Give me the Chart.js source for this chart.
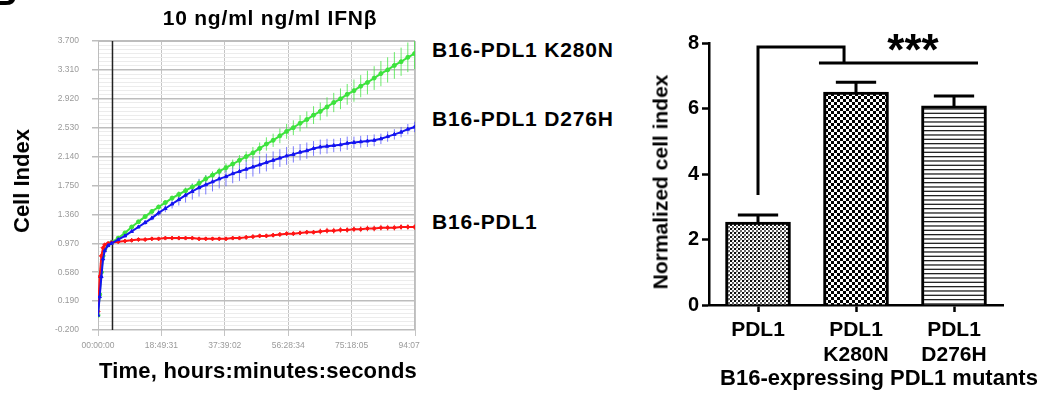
<!DOCTYPE html>
<html>
<head>
<meta charset="utf-8">
<script src="https://cdn.jsdelivr.net/npm/chart.js@4.4.0/dist/chart.umd.min.js"></script>
<style>
html, body { margin: 0; padding: 0; background: #fff; }
body { width: 1052px; height: 394px; position: relative; overflow: hidden;
       font-family: "Liberation Sans", Arial, sans-serif; }
canvas { position: absolute; top: 0; }
.t { position: absolute; font-weight: bold; color: #000; white-space: nowrap; line-height: 1; }
.c { transform: translateX(-50%); }
.r { transform: translate(-50%, -50%) rotate(-90deg); }
</style>
</head>
<body>
<canvas id="curve-chart" width="420" height="394" style="left:0"></canvas>
<canvas id="bar-chart" width="422" height="394" style="left:630px"></canvas>

<div class="t" style="left:-9px;top:-25px;font-size:36px">B</div>
<div class="t c" style="left:270px;top:7px;font-size:21px;letter-spacing:.8px">10 ng/ml ng/ml IFNβ</div>
<div class="t r" style="left:22px;top:181px;font-size:22px">Cell Index</div>
<div class="t c" style="left:258px;top:360px;font-size:22px;letter-spacing:.2px">Time, hours:minutes:seconds</div>
<div class="t" style="left:432px;top:39px;font-size:21px;letter-spacing:.8px">B16-PDL1 K280N</div>
<div class="t" style="left:432px;top:108px;font-size:21px;letter-spacing:.8px">B16-PDL1 D276H</div>
<div class="t" style="left:432px;top:211px;font-size:21px;letter-spacing:.8px">B16-PDL1</div>

<div class="t r" style="left:660px;top:182px;font-size:21px">Normalized cell index</div>
<div class="t c" style="left:879px;top:367px;font-size:22px">B16-expressing PDL1 mutants</div>
<div class="t c" style="left:913px;top:28px;font-size:44px">***</div>

<script>
// left panel: cell index over time (hours), mean and error for each line
var hours = [0, 0.5, 1, 1.5, 2, 3, 4, 6, 8, 10, 12, 14, 16, 18, 20, 22, 24, 26, 28, 30, 32, 34, 36, 38, 40,
             42, 44, 46, 48, 50, 52, 54, 56, 58, 60, 62, 64, 66, 68, 70, 72, 74, 76, 78, 80, 82, 84, 86, 88, 90, 92, 94];

var k280n = [0.00, 0.28, 0.58, 0.80, 0.89, 0.95, 0.98, 1.04, 1.11, 1.19, 1.26, 1.33, 1.40, 1.46, 1.52, 1.58, 1.63,
             1.68, 1.73, 1.78, 1.84, 1.89, 1.94, 1.99, 2.04, 2.09, 2.14, 2.19, 2.25, 2.31, 2.36, 2.42, 2.48, 2.53,
             2.59, 2.64, 2.70, 2.75, 2.81, 2.87, 2.92, 2.98, 3.03, 3.09, 3.14, 3.20, 3.26, 3.31, 3.37, 3.42, 3.48, 3.53];
var k280nErr = [0.00, 0.02, 0.03, 0.03, 0.02, 0.02, 0.02, 0.02, 0.02, 0.02, 0.02, 0.02, 0.03, 0.03, 0.03, 0.03, 0.04,
                0.04, 0.04, 0.05, 0.05, 0.05, 0.05, 0.06, 0.06, 0.07, 0.07, 0.08, 0.08, 0.09, 0.09, 0.10, 0.10, 0.10,
                0.11, 0.11, 0.12, 0.12, 0.13, 0.13, 0.14, 0.14, 0.15, 0.15, 0.16, 0.16, 0.17, 0.17, 0.18, 0.19, 0.20, 0.21];

var d276h = [0.00, 0.25, 0.52, 0.76, 0.87, 0.94, 0.97, 1.02, 1.07, 1.13, 1.19, 1.25, 1.31, 1.38, 1.44, 1.50, 1.56,
             1.62, 1.67, 1.72, 1.76, 1.80, 1.84, 1.87, 1.91, 1.94, 1.97, 2.00, 2.03, 2.06, 2.09, 2.12, 2.15, 2.17,
             2.20, 2.22, 2.25, 2.27, 2.28, 2.29, 2.30, 2.32, 2.33, 2.34, 2.35, 2.36, 2.38, 2.41, 2.44, 2.47, 2.51, 2.54];
var d276hErr = [0.00, 0.02, 0.02, 0.02, 0.02, 0.01, 0.01, 0.01, 0.02, 0.02, 0.02, 0.03, 0.03, 0.04, 0.05, 0.06, 0.08,
                0.10, 0.11, 0.12, 0.13, 0.13, 0.13, 0.13, 0.13, 0.13, 0.13, 0.13, 0.12, 0.12, 0.12, 0.12, 0.12, 0.11,
                0.11, 0.11, 0.10, 0.10, 0.10, 0.09, 0.09, 0.09, 0.08, 0.08, 0.08, 0.08, 0.07, 0.07, 0.07, 0.07, 0.07, 0.07];

var pdl1 = [0.05, 0.52, 0.80, 0.91, 0.95, 0.97, 0.98, 0.99, 1.00, 1.01, 1.02, 1.02, 1.03, 1.03, 1.04, 1.04, 1.04,
            1.04, 1.04, 1.03, 1.03, 1.03, 1.03, 1.03, 1.04, 1.04, 1.05, 1.06, 1.07, 1.07, 1.08, 1.09, 1.10, 1.10,
            1.11, 1.12, 1.12, 1.13, 1.14, 1.14, 1.15, 1.15, 1.16, 1.16, 1.17, 1.17, 1.18, 1.18, 1.18, 1.19, 1.19, 1.19];
var pdl1Err = [0.02, 0.03, 0.02, 0.01, 0.01, 0.01, 0.01, 0.01, 0.01, 0.01, 0.01, 0.01, 0.01, 0.01, 0.01, 0.02, 0.02,
               0.02, 0.02, 0.02, 0.02, 0.02, 0.02, 0.02, 0.02, 0.02, 0.03, 0.03, 0.03, 0.03, 0.03, 0.03, 0.03, 0.03,
               0.03, 0.03, 0.03, 0.04, 0.04, 0.04, 0.04, 0.04, 0.04, 0.04, 0.04, 0.04, 0.04, 0.04, 0.04, 0.04, 0.04, 0.04];

var xTickValues = [0, 18.8253, 37.6506, 56.4761, 75.3014, 94.1267];
var xTickLabels = ['00:00:00', '18:49:31', '37:39:02', '56:28:34', '75:18:05', '94:07:36'];
var yTickValues = [-0.2, 0.19, 0.58, 0.97, 1.36, 1.75, 2.14, 2.53, 2.92, 3.31, 3.7];
var yTickLabels = ['-0.200', '0.190', '0.580', '0.970', '1.360', '1.750', '2.140', '2.530', '2.920', '3.310', '3.700'];
var ifnAddedAt = 4.3;

// right panel: normalized cell index per line
var barLabels = ['PDL1', ['PDL1', 'K280N'], ['PDL1', 'D276H']];
var barValues = [2.53, 6.50, 6.08];
var barErrors = [0.22, 0.30, 0.30];

var FONT = '"Liberation Sans", Arial, sans-serif';

function toPoints(vals) {
    return vals.map(function (v, i) { return { x: hours[i], y: v }; });
}

function fixSize(w, h) {
    return function (scale) {
        if (w !== null) scale.width = w;
        if (h !== null) scale.height = h;
        scale.paddingLeft = scale.paddingRight = scale.paddingTop = scale.paddingBottom = 0;
    };
}

var curveExtras = {
    id: 'curveExtras',
    beforeDatasetsDraw: function (chart) {
        var ctx = chart.ctx, a = chart.chartArea, x = chart.scales.x, y = chart.scales.y;
        ctx.save();
        ctx.strokeStyle = '#bdbdbd';
        ctx.lineWidth = 1;
        ctx.strokeRect(a.left + 0.5, a.top + 0.5, a.right - a.left - 1, a.bottom - a.top - 1);

        var lx = x.getPixelForValue(ifnAddedAt);
        ctx.strokeStyle = '#222';
        ctx.lineWidth = 1.5;
        ctx.beginPath();
        ctx.moveTo(lx, a.top);
        ctx.lineTo(lx, a.bottom);
        ctx.stroke();

        ctx.beginPath();
        ctx.rect(a.left, a.top, a.right - a.left, a.bottom - a.top);
        ctx.clip();
        chart.data.datasets.forEach(function (ds) {
            ctx.strokeStyle = ds.errColor;
            ctx.lineWidth = 1;
            ds.data.forEach(function (p, i) {
                var px = x.getPixelForValue(p.x);
                ctx.beginPath();
                ctx.moveTo(px, y.getPixelForValue(p.y - ds.errs[i]));
                ctx.lineTo(px, y.getPixelForValue(p.y + ds.errs[i]));
                ctx.stroke();
            });
        });
        ctx.restore();
    }
};

var configCurve = {
    type: 'line',
    data: {
        datasets: [{
            label: 'B16-PDL1 D276H',
            data: toPoints(d276h),
            errs: d276hErr,
            errColor: 'rgba(80,80,255,0.75)',
            borderColor: '#1414f0',
            backgroundColor: '#1414f0',
            pointStyle: 'triangle',
            order: 0
        }, {
            label: 'B16-PDL1',
            data: toPoints(pdl1),
            errs: pdl1Err,
            errColor: 'rgba(255,80,80,0.8)',
            borderColor: '#ff1414',
            backgroundColor: '#ff1414',
            pointStyle: 'rectRot',
            order: 1
        }, {
            label: 'B16-PDL1 K280N',
            data: toPoints(k280n),
            errs: k280nErr,
            errColor: 'rgba(70,230,70,0.8)',
            borderColor: '#3de23d',
            backgroundColor: '#3de23d',
            pointStyle: 'circle',
            order: 2
        }]
    },
    options: {
        responsive: false,
        animation: false,
        devicePixelRatio: 1,
        layout: { padding: { top: 41, right: 5, left: 0, bottom: 0 } },
        elements: {
            line: { borderWidth: 2, tension: 0 },
            point: { radius: 2, borderWidth: 1 }
        },
        plugins: { legend: { display: false }, title: { display: false }, tooltip: { enabled: false } },
        scales: {
            x: {
                type: 'linear',
                min: 0,
                max: 94.1267,
                afterBuildTicks: function (scale) {
                    scale.ticks = xTickValues.map(function (v) { return { value: v }; });
                },
                afterFit: fixSize(null, 64),
                ticks: {
                    autoSkip: false,
                    maxRotation: 0,
                    padding: 5,
                    color: '#9a9a9a',
                    font: { family: FONT, size: 8.5 },
                    callback: function (v, i) { return xTickLabels[i]; }
                },
                grid: { color: '#c4c4c4', lineWidth: 1, dash: [2, 2], borderDash: [2, 2], tickLength: 6, tickColor: '#c4c4c4' },
                border: { display: false }
            },
            y: {
                type: 'linear',
                min: -0.2,
                max: 3.7,
                afterBuildTicks: function (scale) {
                    var ticks = [];
                    for (var i = 0; i < yTickValues.length - 1; i++) {
                        var step = (yTickValues[i + 1] - yTickValues[i]) / 7;
                        for (var k = 0; k < 7; k++) {
                            ticks.push({ value: yTickValues[i] + k * step, isMajor: k === 0, idx: i });
                        }
                    }
                    ticks.push({ value: yTickValues[yTickValues.length - 1], isMajor: true, idx: yTickValues.length - 1 });
                    scale.ticks = ticks;
                },
                afterFit: fixSize(98, null),
                ticks: {
                    autoSkip: false,
                    padding: 13,
                    color: '#9a9a9a',
                    font: { family: FONT, size: 8.5 },
                    callback: function (v, i, ticks) { return ticks[i].isMajor ? yTickLabels[ticks[i].idx] : ''; }
                },
                grid: {
                    tickLength: 6,
                    color: function (c) { return c.tick && c.tick.isMajor ? '#bdbdbd' : '#ececec'; },
                    lineWidth: function (c) { return c.tick && c.tick.isMajor ? 1.5 : 1; },
                    tickColor: function (c) { return c.tick && c.tick.isMajor ? '#bdbdbd' : 'rgba(0,0,0,0)'; }
                },
                border: { display: false }
            }
        }
    },
    plugins: [curveExtras]
};

new Chart(document.getElementById('curve-chart').getContext('2d'), configCurve);

// bar fill patterns
function makePattern(w, h, draw) {
    var c = document.createElement('canvas');
    c.width = w; c.height = h;
    var g = c.getContext('2d');
    g.fillStyle = '#fff';
    g.fillRect(0, 0, w, h);
    draw(g);
    return document.getElementById('bar-chart').getContext('2d').createPattern(c, 'repeat');
}

var stipple = makePattern(4, 4, function (g) {
    g.fillStyle = '#111'; g.fillRect(0, 0, 2, 2);
    g.fillStyle = '#666'; g.fillRect(2, 2, 2, 2);
    g.fillStyle = '#bbb'; g.fillRect(2, 0, 1, 1);
});
var checker = makePattern(6, 6, function (g) {
    g.fillStyle = '#000'; g.fillRect(0, 0, 3, 3); g.fillRect(3, 3, 3, 3);
});
var stripes = makePattern(4, 13, function (g) {
    g.fillStyle = '#222';
    g.fillRect(0, 0, 4, 1.3); g.fillRect(0, 4.33, 4, 1.3); g.fillRect(0, 8.67, 4, 1.3);
});

var barExtras = {
    id: 'barExtras',
    afterDatasetsDraw: function (chart) {
        var ctx = chart.ctx, x = chart.scales.x, y = chart.scales.y;
        var meta = chart.getDatasetMeta(0);
        ctx.save();
        ctx.strokeStyle = '#000';
        ctx.lineWidth = 3;
        ctx.lineCap = 'butt';
        meta.data.forEach(function (bar, i) {
            var top = y.getPixelForValue(barValues[i] + barErrors[i]);
            var half = bar.width * 0.31;
            ctx.beginPath();
            ctx.moveTo(bar.x, bar.y);
            ctx.lineTo(bar.x, top);
            ctx.moveTo(bar.x - half, top);
            ctx.lineTo(bar.x + half, top);
            ctx.stroke();
        });
        // significance bracket, in data units
        ctx.lineJoin = 'miter';
        ctx.beginPath();
        ctx.moveTo(x.getPixelForValue(0), y.getPixelForValue(3.36));
        ctx.lineTo(x.getPixelForValue(0), y.getPixelForValue(7.88));
        ctx.lineTo(x.getPixelForValue(0.878), y.getPixelForValue(7.88));
        ctx.lineTo(x.getPixelForValue(0.878), y.getPixelForValue(7.39));
        ctx.moveTo(x.getPixelForValue(0.622), y.getPixelForValue(7.39));
        ctx.lineTo(x.getPixelForValue(2.245), y.getPixelForValue(7.39));
        ctx.stroke();
        ctx.restore();
    }
};

var configBar = {
    type: 'bar',
    data: {
        labels: barLabels,
        datasets: [{
            data: barValues,
            backgroundColor: [stipple, checker, stripes],
            borderColor: '#000',
            borderWidth: 3,
            barThickness: 65
        }]
    },
    options: {
        responsive: false,
        animation: false,
        devicePixelRatio: 1,
        layout: { padding: { top: 43, right: 49, left: 0, bottom: 0 } },
        plugins: { legend: { display: false }, title: { display: false }, tooltip: { enabled: false } },
        scales: {
            x: {
                afterFit: fixSize(null, 89),
                ticks: {
                    color: '#000',
                    padding: 5,
                    maxRotation: 0,
                    font: { family: FONT, size: 21, weight: 'bold', lineHeight: 1.22 }
                },
                grid: { offset: false, drawOnChartArea: false, tickLength: 7, tickColor: '#000', tickWidth: 2.5 },
                border: { color: '#000', width: 2.5 }
            },
            y: {
                min: 0,
                max: 8,
                afterFit: fixSize(79, null),
                ticks: {
                    stepSize: 2,
                    color: '#000',
                    padding: 3,
                    font: { family: FONT, size: 20, weight: 'bold' }
                },
                grid: { drawOnChartArea: false, tickLength: 7, tickColor: '#000', tickWidth: 2.5 },
                border: { color: '#000', width: 2.5 }
            }
        }
    },
    plugins: [barExtras]
};

new Chart(document.getElementById('bar-chart').getContext('2d'), configBar);
</script>
</body>
</html>
